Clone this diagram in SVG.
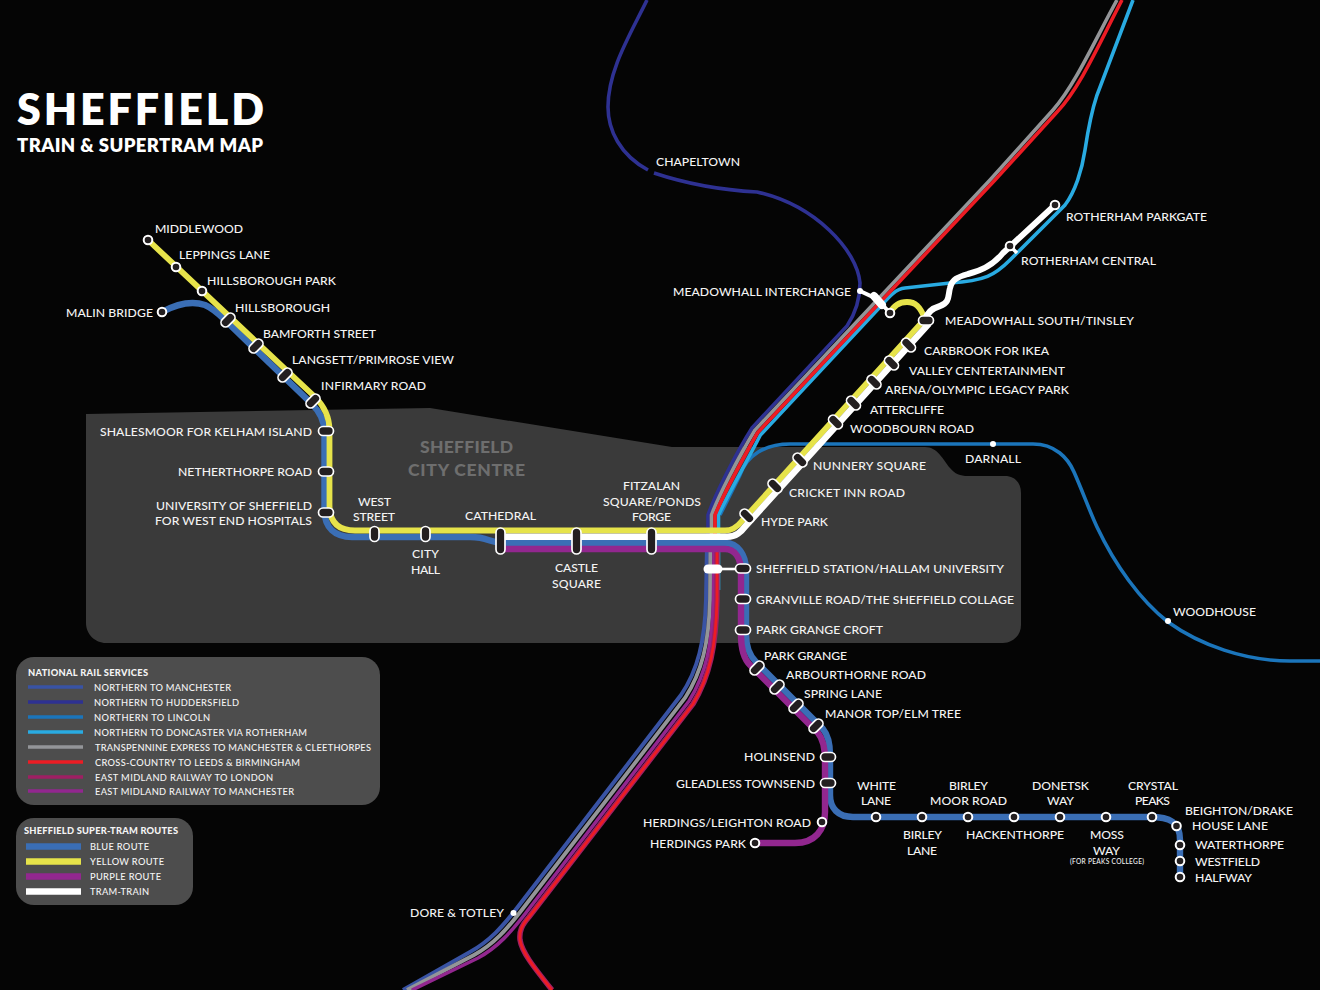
<svg xmlns="http://www.w3.org/2000/svg" width="1320" height="990" viewBox="0 0 1320 990">
<style>
text{font-family:"Lato","Liberation Sans",sans-serif;font-size:12.2px;fill:#f4f4f4;font-weight:500}
#stations text{transform:translateY(-.4px)}
.r{fill:none;stroke-width:3.6}
.t{fill:none;stroke-width:6.4}
.p{fill:#231f20;stroke:#fff;stroke-width:1.7}
.c{fill:#231f20;stroke:#fff;stroke-width:2}
.d{fill:#fff}
.l{font-size:9.3px;transform:translateY(-.1px)}
.h{font-size:9.3px;font-weight:900}
.k{font-size:17.5px;font-weight:900;fill:#6e6e6e;transform:translateY(-.4px)}
.navy{stroke:#2e3192}.man{stroke:#3953a4}.lin{stroke:#1b75bb}.don{stroke:#29abe2}.gry{stroke:#939598}.red{stroke:#ed1c24}.mar{stroke:#9e1f63}.pur{stroke:#92278f}
.tb{stroke:#3a6eb5}.ty{stroke:#e6e34a}.tp{stroke:#92278f}.tw{stroke:#fff}
</style>
<rect width="1320" height="990" fill="#050505"/>
<path id="city-centre-area" d="M86,414 L430,408 L672,447 L925,447 C938,447 943,460 950,468 C955,474 960,476 968,476 L1005,476 C1015,476 1021,483 1021,493 L1021,625 C1021,636 1012,643 1003,643 L106,643 C95,643 86,634 86,623 Z" fill="#3a3a3a"/>
<g id="title">
<text x="17" y="124.500" style="font-size:43px;font-weight:800;fill:#fff" textLength="247" lengthAdjust="spacing">SHEFFIELD</text>
<text x="17" y="152" style="font-size:18.5px;font-weight:800;fill:#fff" textLength="246" lengthAdjust="spacing">TRAIN &amp; SUPERTRAM MAP</text>
</g>
<g id="area-label">
<text class="k" x="420" y="453" textLength="93">SHEFFIELD</text>
<text class="k" x="408" y="476" textLength="117">CITY CENTRE</text>
</g>
<g id="connectors">
<path class="r navy" d="M647,0 C630,35 608,70 608,107 C608,130 620,155 648,170"/>
<path class="r navy" d="M654,173 C690,185 720,190 757,192 C815,205 857,250 860,283 C860,300 855,314 847,326 L752.300,427.500 C735,455 715,495 708,515 L708,545"/>
<path class="r man" style="stroke-width:4" d="M707,545 L706,600 C705,640 698,670 681,695 L517,908 C503,926 490,941 470,952 L403,990"/>
<path class="r lin" d="M720,515 L740,475 C747,455 765,444 790,444 L1033,444 C1055,444 1068,458 1074,472 C1082,490 1090,512 1097,527 C1115,565 1140,600 1168,622 C1200,645 1245,661 1290,661 L1320,661"/>
<path class="r don" d="M718.500,590 L718.500,515 C725,500 745,465 760.400,435 L880,307 C888,298 895,289 905,288 L950,283 C985,281 995,275 1010,260 L1065,205 C1075,192 1082,170 1085,150 C1088,130 1092,110 1097,95 L1133,0"/>
<path class="r gry" d="M711.500,545 L711.500,515 C718,497 738,458 755,430 L990,180 L1053,110 C1075,85 1095,40 1117,0"/>
<path class="r red" d="M715,545 L715,515 C722,498 741,462 757.700,432.500 L995,180 L1057,112 C1080,88 1100,42 1122,0"/>
<path class="r gry" style="stroke-width:3.8" d="M710.500,545 L710,600 C709,642 702,672 685,698 L521,911 C507,929 494,944 474,955 L407,990"/>
<path class="r pur" d="M714,545 L713.500,600 C712.500,644 706,674 689,701 L525,914 C511,932 498,947 478,958 L412,990"/>
<path class="r mar" style="stroke-width:5.4" d="M717,545 L717,600 C716,646 710,676 693,704 L529,917 C522,925 519,931 520,940 C522,952 532,965 552,990"/>
<path class="r red" style="stroke-width:2.8" d="M717,545 L717,600 C716,646 710,676 693,704 L529,917 C522,925 519,931 520,940 C522,952 532,965 552,990"/>
<path class="t tb" d="M162,312 C175,305 190,300 205,305 C212,308 218,313 225,320 L312,404 C320,412 324.5,420 324.5,432 L324.5,510 C324.5,528 335,537 352,537 L470,537 C490,537 488,543 505,543 L725,543 C738,543 746,555 746,570 L746,635 C746,648 750,656 756,662 L823,729 C828,735 830,742 830,755 L830,795 C830,808 838,817 853,817 L1150,817 C1170,817 1180,822 1180,840 L1180,878"/>
<path class="t tp" d="M497,549 L725,549 C735,549 741,558 741,572 L741,635 C741,650 745,660 750,665 L818,733 C823,739 825,747 825,760 L825,812 C825,830 815,843 795,843 L755,843"/>
<path class="t ty" style="stroke-width:5.8" d="M148,240 L315,397 C325,407 329.5,418 329.5,430 L329.5,505 C329.5,522 338,530.5 355,530.5 L725,530.5 C733,530.5 738,526 742,521 L925,319 C920,306 915,302 907,302 C898,302 893,307 890,313"/>
<path class="t tw" d="M500,536.800 L727,536.800 C736,536.800 741,532 746,525.500 L929,323.500"/>
<path class="t tw" style="stroke-width:6" d="M925,320 C927,312 933,308 940,306 C950,303 948,295 950,288 C952,279 958,277 968,274 C985,270 995,263 1003,253 L1055,205"/>
<path class="t tw" style="stroke-width:3.6" d="M1010,246 L1017,253"/>
<path class="t tw" style="stroke-width:4" d="M860,291 L877,299 L890,313"/>
<path class="t tw" style="stroke-width:8;stroke-linecap:round" d="M874,296 L882,305"/>
<path class="t tw" style="stroke-width:2.6" d="M713,569 L743,569"/>
<path class="t tw" style="stroke-width:9;stroke-linecap:round" d="M708,569 L718,569"/>
</g>
<g id="stations">
<g id="middlewood"><circle class="c" cx="148" cy="240" r="4.3"/><text x="155" y="233" textLength="88">MIDDLEWOOD</text></g>
<g id="leppings-lane"><circle class="c" cx="176" cy="267" r="4.3"/><text x="179" y="259" textLength="91">LEPPINGS LANE</text></g>
<g id="hillsborough-park"><circle class="c" cx="202" cy="291" r="4.3"/><text x="207" y="285" textLength="129">HILLSBOROUGH PARK</text></g>
<g id="malin-bridge"><circle class="c" cx="162" cy="312" r="4.3"/><text x="66" y="317" textLength="87">MALIN BRIDGE</text></g>
<g id="hillsborough"><rect class="p" x="220" y="315.500" width="16" height="9" rx="4.500" transform="rotate(-45 228 320)"/><text x="235" y="312" textLength="95">HILLSBOROUGH</text></g>
<g id="bamforth-street"><rect class="p" x="248" y="341.500" width="16" height="9" rx="4.500" transform="rotate(-45 256 346)"/><text x="263" y="338" textLength="113">BAMFORTH STREET</text></g>
<g id="langsett"><rect class="p" x="277" y="370.500" width="16" height="9" rx="4.500" transform="rotate(-45 285 375)"/><text x="292" y="364" textLength="162">LANGSETT/PRIMROSE VIEW</text></g>
<g id="infirmary-road"><rect class="p" x="305" y="396.500" width="16" height="9" rx="4.500" transform="rotate(-45 313 401)"/><text x="321" y="390" textLength="105">INFIRMARY ROAD</text></g>
<g id="shalesmoor"><rect class="p" x="318.500" y="426.500" width="15" height="9" rx="4.500"/><text x="100" y="436" textLength="212">SHALESMOOR FOR KELHAM ISLAND</text></g>
<g id="netherthorpe-road"><rect class="p" x="318.500" y="467" width="15" height="9" rx="4.500"/><text x="178" y="476" textLength="134">NETHERTHORPE ROAD</text></g>
<g id="university"><rect class="p" x="318.500" y="508" width="15" height="9" rx="4.500"/><text x="156" y="510" textLength="156">UNIVERSITY OF SHEFFIELD</text><text x="155" y="525" textLength="157">FOR WEST END HOSPITALS</text></g>
<g id="west-street"><rect class="p" x="370" y="526.500" width="9" height="15" rx="4.500"/><text x="358" y="506" textLength="33">WEST</text><text x="353" y="521" textLength="42">STREET</text></g>
<g id="city-hall"><rect class="p" x="421" y="526.500" width="9" height="15" rx="4.500"/><text x="412" y="558" textLength="27">CITY</text><text x="411" y="574" textLength="29">HALL</text></g>
<g id="cathedral"><rect class="p" x="496" y="528" width="9" height="26" rx="4.500"/><text x="465" y="520" textLength="71">CATHEDRAL</text></g>
<g id="castle-square"><rect class="p" x="572" y="528" width="9" height="26" rx="4.500"/><text x="555" y="572" textLength="43">CASTLE</text><text x="552" y="588" textLength="49">SQUARE</text></g>
<g id="fitzalan-square"><rect class="p" x="647" y="528" width="9" height="26" rx="4.500"/><text x="623" y="490" textLength="57">FITZALAN</text><text x="603" y="506" textLength="98">SQUARE/PONDS</text><text x="632" y="521" textLength="39">FORGE</text></g>
<g id="hyde-park"><rect class="p" x="739" y="511.500" width="16" height="9" rx="4.500" transform="rotate(45 747 516)"/><text x="761" y="526" textLength="67">HYDE PARK</text></g>
<g id="cricket-inn-road"><rect class="p" x="767" y="481.500" width="16" height="9" rx="4.500" transform="rotate(45 775 486)"/><text x="789" y="497" textLength="116">CRICKET INN ROAD</text></g>
<g id="nunnery-square"><rect class="p" x="792" y="455.500" width="16" height="9" rx="4.500" transform="rotate(45 800 460)"/><text x="813" y="470" textLength="113">NUNNERY SQUARE</text></g>
<g id="woodbourn-road"><rect class="p" x="827.500" y="417.500" width="16" height="9" rx="4.500" transform="rotate(45 835.500 422)"/><text x="850" y="433" textLength="124">WOODBOURN ROAD</text></g>
<g id="attercliffe"><rect class="p" x="845.500" y="398.500" width="16" height="9" rx="4.500" transform="rotate(45 853.500 403)"/><text x="870" y="414" textLength="74">ATTERCLIFFE</text></g>
<g id="arena"><rect class="p" x="866" y="377.500" width="16" height="9" rx="4.500" transform="rotate(45 874 382)"/><text x="885" y="394" textLength="184">ARENA/OLYMPIC LEGACY PARK</text></g>
<g id="valley-centertainment"><rect class="p" x="883.500" y="358.500" width="16" height="9" rx="4.500" transform="rotate(45 891.500 363)"/><text x="909" y="375" textLength="156">VALLEY CENTERTAINMENT</text></g>
<g id="carbrook"><rect class="p" x="900.500" y="340.500" width="16" height="9" rx="4.500" transform="rotate(45 908.500 345)"/><text x="924" y="355" textLength="125">CARBROOK FOR IKEA</text></g>
<g id="meadowhall-south"><rect class="p" x="918.500" y="316" width="15" height="9" rx="4.500"/><text x="945" y="325" textLength="189">MEADOWHALL SOUTH/TINSLEY</text></g>
<g id="meadowhall-interchange"><circle class="d" cx="860" cy="291" r="3"/><circle class="c" cx="890" cy="313" r="4.300"/><text x="673" y="296" textLength="178">MEADOWHALL INTERCHANGE</text></g>
<g id="chapeltown"><text x="656" y="166" textLength="84">CHAPELTOWN</text></g>
<g id="rotherham-parkgate"><circle class="c" cx="1055" cy="205" r="4.300"/><text x="1066" y="221" textLength="141">ROTHERHAM PARKGATE</text></g>
<g id="rotherham-central"><circle class="c" cx="1010" cy="246" r="4.300"/><text x="1021" y="265" textLength="135">ROTHERHAM CENTRAL</text></g>
<g id="darnall"><circle class="d" cx="993" cy="444" r="3"/><text x="965" y="463" textLength="56">DARNALL</text></g>
<g id="woodhouse"><circle class="d" cx="1168" cy="621" r="3"/><text x="1173" y="616" textLength="83">WOODHOUSE</text></g>
<g id="sheffield-station"><rect class="p" x="735.500" y="564" width="15" height="9" rx="4.500"/><text x="756" y="573" textLength="248">SHEFFIELD STATION/HALLAM UNIVERSITY</text></g>
<g id="granville-road"><rect class="p" x="735.500" y="594.500" width="15" height="9" rx="4.500"/><text x="756" y="604" textLength="258">GRANVILLE ROAD/THE SHEFFIELD COLLAGE</text></g>
<g id="park-grange-croft"><rect class="p" x="735.500" y="625.500" width="15" height="9" rx="4.500"/><text x="756" y="634" textLength="127">PARK GRANGE CROFT</text></g>
<g id="park-grange"><rect class="p" x="749" y="663.500" width="16" height="9" rx="4.500" transform="rotate(-45 757 668)"/><text x="764" y="660" textLength="83">PARK GRANGE</text></g>
<g id="arbourthorne-road"><rect class="p" x="769" y="682.500" width="16" height="9" rx="4.500" transform="rotate(-45 777 687)"/><text x="786" y="679" textLength="140">ARBOURTHORNE ROAD</text></g>
<g id="spring-lane"><rect class="p" x="788" y="701.500" width="16" height="9" rx="4.500" transform="rotate(-45 796 706)"/><text x="804" y="698" textLength="78">SPRING LANE</text></g>
<g id="manor-top"><rect class="p" x="808" y="721.500" width="16" height="9" rx="4.500" transform="rotate(-45 816 726)"/><text x="825" y="718" textLength="136">MANOR TOP/ELM TREE</text></g>
<g id="holinsend"><rect class="p" x="820.500" y="752.500" width="15" height="9" rx="4.500"/><text x="744" y="761" textLength="71">HOLINSEND</text></g>
<g id="gleadless-townsend"><rect class="p" x="820.500" y="778.500" width="15" height="9" rx="4.500"/><text x="676" y="788" textLength="139">GLEADLESS TOWNSEND</text></g>
<g id="herdings-leighton"><circle class="c" cx="822" cy="822" r="4.300"/><text x="643" y="827" textLength="168">HERDINGS/LEIGHTON ROAD</text></g>
<g id="herdings-park"><circle class="c" cx="755" cy="843" r="4.300"/><text x="650" y="848" textLength="96">HERDINGS PARK</text></g>
<g id="white-lane"><circle class="c" cx="876" cy="817" r="4.300"/><text x="857" y="790" textLength="39">WHITE</text><text x="861" y="805" textLength="30">LANE</text></g>
<g id="birley-lane"><circle class="c" cx="922" cy="817" r="4.300"/><text x="903" y="839" textLength="39">BIRLEY</text><text x="907" y="855" textLength="30">LANE</text></g>
<g id="birley-moor-road"><circle class="c" cx="968" cy="817" r="4.300"/><text x="949" y="790" textLength="39">BIRLEY</text><text x="930" y="805" textLength="77">MOOR ROAD</text></g>
<g id="hackenthorpe"><circle class="c" cx="1014" cy="817" r="4.300"/><text x="966" y="839" textLength="98">HACKENTHORPE</text></g>
<g id="donetsk-way"><circle class="c" cx="1060" cy="817" r="4.300"/><text x="1032" y="790" textLength="57">DONETSK</text><text x="1047" y="805" textLength="27">WAY</text></g>
<g id="moss-way"><circle class="c" cx="1106" cy="817" r="4.300"/><text x="1090" y="839" textLength="34">MOSS</text><text x="1093" y="855" textLength="27">WAY</text><text x="1070" y="864" style="font-size:6.6px" textLength="74">(FOR PEAKS COLLEGE)</text></g>
<g id="crystal-peaks"><circle class="c" cx="1152" cy="817" r="4.300"/><text x="1128" y="790" textLength="50">CRYSTAL</text><text x="1135" y="805" textLength="35">PEAKS</text></g>
<g id="beighton"><circle class="c" cx="1176.500" cy="826" r="4.300"/><text x="1185" y="815" textLength="108">BEIGHTON/DRAKE</text><text x="1192" y="830" textLength="76">HOUSE LANE</text></g>
<g id="waterthorpe"><circle class="c" cx="1180" cy="845" r="4.300"/><text x="1195" y="849" textLength="89">WATERTHORPE</text></g>
<g id="westfield"><circle class="c" cx="1180" cy="861" r="4.300"/><text x="1195" y="866" textLength="65">WESTFIELD</text></g>
<g id="halfway"><circle class="c" cx="1180" cy="877" r="4.300"/><text x="1195" y="882" textLength="57">HALFWAY</text></g>
<g id="dore-totley"><circle class="d" cx="513.500" cy="913" r="3"/><text x="410" y="917" textLength="94">DORE &amp; TOTLEY</text></g>
</g>
<g id="legend-national-rail">
<rect x="16" y="657" width="364" height="148" rx="18" fill="#4d4d4d"/>
<text class="h" x="28" y="676" textLength="120">NATIONAL RAIL SERVICES</text>
<path class="r man" d="M28,687 H83"/><text class="l" x="94" y="691" textLength="137">NORTHERN TO MANCHESTER</text>
<path class="r navy" d="M28,702 H83"/><text class="l" x="94" y="706" textLength="145">NORTHERN TO HUDDERSFIELD</text>
<path class="r lin" d="M28,717 H83"/><text class="l" x="94" y="721" textLength="116">NORTHERN TO LINCOLN</text>
<path class="r don" d="M28,732 H83"/><text class="l" x="94" y="736" textLength="213">NORTHERN TO DONCASTER VIA ROTHERHAM</text>
<path class="r gry" d="M28,747 H83"/><text class="l" x="95" y="751" textLength="276">TRANSPENNINE EXPRESS TO MANCHESTER &amp; CLEETHORPES</text>
<path class="r red" d="M28,762 H83"/><text class="l" x="95" y="766" textLength="205">CROSS-COUNTRY TO LEEDS &amp; BIRMINGHAM</text>
<path class="r mar" d="M28,777 H83"/><text class="l" x="95" y="781" textLength="178">EAST MIDLAND RAILWAY TO LONDON</text>
<path class="r pur" d="M28,791 H83"/><text class="l" x="95" y="795" textLength="199">EAST MIDLAND RAILWAY TO MANCHESTER</text>
</g>
<g id="legend-tram">
<rect x="16" y="818" width="177" height="87" rx="18" fill="#4d4d4d"/>
<text class="h" x="24" y="834" textLength="154">SHEFFIELD SUPER-TRAM ROUTES</text>
<path class="t tb" d="M26,846.500 H81"/><text class="l" x="90" y="850" textLength="59">BLUE ROUTE</text>
<path class="t ty" d="M26,861.500 H81"/><text class="l" x="90" y="865" textLength="74">YELLOW ROUTE</text>
<path class="t tp" d="M26,876.500 H81"/><text class="l" x="90" y="880" textLength="71">PURPLE ROUTE</text>
<path class="t tw" d="M26,891.500 H81"/><text class="l" x="90" y="895" textLength="59">TRAM-TRAIN</text>
</g>
</svg>
